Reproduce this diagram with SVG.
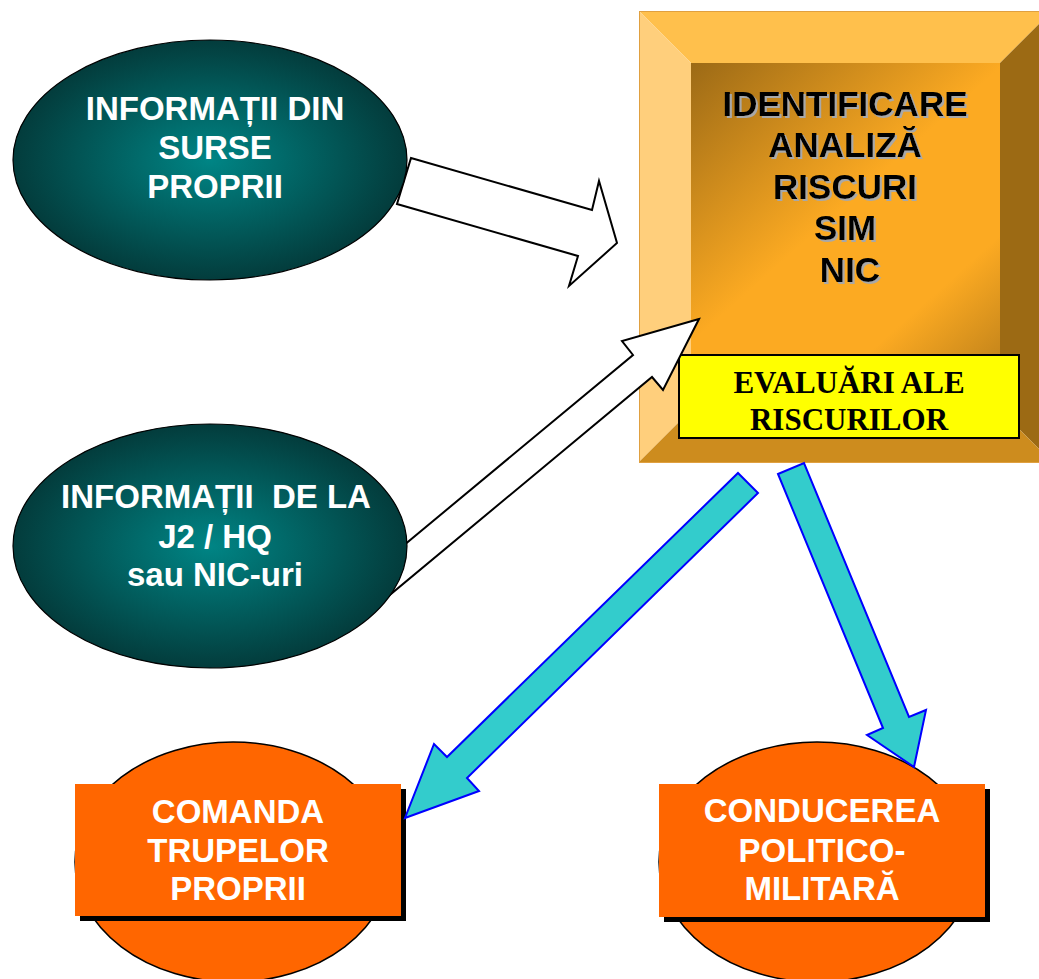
<svg xmlns="http://www.w3.org/2000/svg" width="1039" height="979" viewBox="0 0 1039 979">
<style>
.sans{font-family:"Liberation Sans",Arial,sans-serif;font-weight:bold;text-anchor:middle}
.wt{fill:#FFFFFF;font-size:33px;white-space:pre}
.bt{fill:#000000;font-size:35px}
.ser{font-family:"Liberation Serif","Times New Roman",serif;font-weight:bold;font-size:31px;text-anchor:middle;fill:#000}
.teal{fill:url(#tealG);stroke:#000;stroke-width:1.2}
.oel{fill:#FF6600;stroke:#000;stroke-width:1.5}
.orect{fill:#FF6600}
.shad{fill:#000}
.hollow{fill:#FFFFFF;stroke:#000;stroke-width:2;stroke-linejoin:miter}
.cyan{fill:#33CCCC;stroke:#0000FF;stroke-width:2;stroke-linejoin:miter}
</style>
<defs>
<radialGradient id="tealG" cx="50%" cy="50%" r="50%">
<stop offset="0" stop-color="#008585"/>
<stop offset="1" stop-color="#033C3C"/>
</radialGradient>
<linearGradient id="faceG" gradientUnits="userSpaceOnUse" x1="691" y1="63" x2="1000" y2="410">
<stop offset="0" stop-color="#9C6A16"/>
<stop offset="0.45" stop-color="#FCAA22"/>
<stop offset="0.72" stop-color="#FCAA22"/>
<stop offset="1" stop-color="#AE7618"/>
</linearGradient>
<filter id="ts" x="-10%" y="-20%" width="125%" height="150%">
<feFlood flood-color="#A8A8A8"/>
<feComposite in2="SourceAlpha" operator="in"/>
<feOffset dx="2" dy="2"/>
<feMerge><feMergeNode/><feMergeNode in="SourceGraphic"/></feMerge>
</filter>
</defs>

<g id="box-identificare">
<polygon points="639,11 1052,11 1000,63 691,63" fill="#FFC04C"/>
<polygon points="639,11 691,63 691,410 639,462" fill="#FFCF7C"/>
<polygon points="1052,11 1052,462 1000,410 1000,63" fill="#9C6A14"/>
<polygon points="639,462 691,410 1000,410 1052,462" fill="#CD8C1E"/>
<rect x="691" y="63" width="309" height="347" fill="url(#faceG)"/>
<rect x="639.5" y="11.5" width="420" height="451" fill="none" stroke="#E0A040" stroke-width="1"/>
<g class="sans bt" filter="url(#ts)">
<text x="845" y="116">IDENTIFICARE</text>
<text x="845" y="157">ANALIZĂ</text>
<text x="845" y="199">RISCURI</text>
<text x="845" y="240">SIM</text>
<text x="850" y="282">NIC</text>
</g>
</g>

<g id="box-evaluari">
<rect x="679" y="355" width="340" height="83" fill="#FFFF00" stroke="#000" stroke-width="2"/>
<text class="ser" x="849" y="393">EVALUĂRI ALE</text>
<text class="ser" x="849" y="430">RISCURILOR</text>
</g>

<g id="node-comanda">
<ellipse class="oel" cx="233" cy="862" rx="158" ry="120"/>
<rect class="shad" x="80" y="789" width="326" height="132"/>
<rect class="orect" x="75" y="784" width="326" height="132"/>
<text class="sans wt" x="238" y="823">COMANDA</text>
<text class="sans wt" x="238" y="862">TRUPELOR</text>
<text class="sans wt" x="238" y="900">PROPRII</text>
</g>

<g id="node-conducerea">
<ellipse class="oel" cx="817" cy="862" rx="158" ry="120"/>
<rect class="shad" x="664" y="789" width="326" height="133"/>
<rect class="orect" x="659" y="784" width="326" height="133"/>
<text class="sans wt" x="822" y="822">CONDUCEREA</text>
<text class="sans wt" x="822" y="862">POLITICO-</text>
<text class="sans wt" x="822" y="900">MILITARĂ</text>
</g>

<g id="connectors">
<polygon class="hollow" points="411,158 592,210 599,181 617,243 569,286 578,256 397,204"/>
<polygon class="hollow" points="699,319 622,341 633,355 350,590 350,628 652,377 663,390"/>
<polygon class="cyan" points="738,473 758,493 467,778 479,791 405,818 434,744 447,757"/>
<polygon class="cyan" points="778,474 804,463 909,717 926,710 914,767 867,735 883,728"/>
</g>

<g id="node-surse">
<ellipse class="teal" cx="210" cy="160" rx="197" ry="120"/>
<text class="sans wt" x="215" y="120">INFORMAȚII DIN</text>
<text class="sans wt" x="215" y="159">SURSE</text>
<text class="sans wt" x="215" y="198">PROPRII</text>
</g>

<g id="node-j2">
<ellipse class="teal" cx="210" cy="546" rx="197" ry="122"/>
<text class="sans wt" x="216" y="508">INFORMAȚII  DE LA</text>
<text class="sans wt" x="215" y="548">J2 / HQ</text>
<text class="sans wt" x="215" y="586">sau NIC-uri</text>
</g>
</svg>
